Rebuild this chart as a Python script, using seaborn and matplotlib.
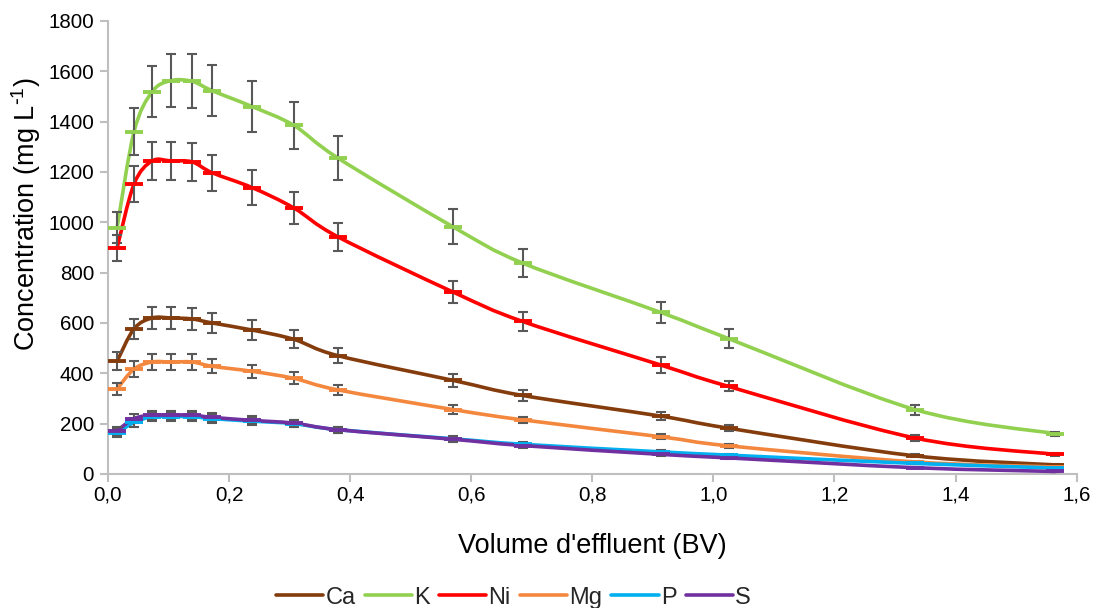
import matplotlib
matplotlib.use("Agg")
import numpy as np
import pandas as pd
import matplotlib.pyplot as plt
import seaborn as sns
from matplotlib.path import Path
from matplotlib.patches import PathPatch
from matplotlib.lines import Line2D
from matplotlib.ticker import FuncFormatter, MultipleLocator

# Effluent volume (bed volumes)
volume_bv = [0.015, 0.043, 0.073, 0.104, 0.139, 0.172, 0.238, 0.307, 0.380,
             0.570, 0.685, 0.913, 1.025, 1.333, 1.565]

# Mean concentrations (mg/L)
ca = [448, 577, 620, 620, 616, 600, 572, 535, 470, 372, 312, 230, 182, 72, 36]
k = [978, 1360, 1519, 1563, 1560, 1523, 1460, 1385, 1255, 982, 838, 642, 538, 256, 160]
ni = [898, 1152, 1244, 1244, 1240, 1197, 1138, 1057, 942, 723, 606, 433, 348, 143, 78]
mg = [338, 417, 445, 445, 445, 428, 408, 380, 334, 256, 215, 148, 112, 48, 28]
p = [163, 205, 228, 228, 228, 220, 210, 200, 176, 140, 118, 88, 75, 42, 24]
s = [172, 220, 234, 234, 234, 225, 213, 202, 176, 138, 113, 78, 64, 25, 10]

# Standard deviations (mg/L)
ca_sd = [35, 40, 44, 44, 42, 40, 40, 36, 30, 25, 20, 15, 12, 6, 3]
k_sd = [62, 94, 102, 105, 107, 102, 100, 95, 88, 70, 57, 42, 37, 20, 8]
ni_sd = [50, 72, 75, 77, 75, 72, 70, 62, 55, 44, 36, 30, 20, 10, 6]
mg_sd = [25, 30, 30, 30, 30, 28, 26, 24, 20, 17, 13, 10, 8, 4, 2]
p_sd = [16, 18, 18, 18, 18, 17, 16, 14, 12, 10, 8, 6, 5, 3, 2]
s_sd = [16, 18, 18, 18, 18, 17, 16, 14, 12, 10, 8, 6, 5, 3, 2]

elements = ["Ca", "K", "Ni", "Mg", "P", "S"]
means = [ca, k, ni, mg, p, s]
sds = [ca_sd, k_sd, ni_sd, mg_sd, p_sd, s_sd]
colors = ["#843C0C", "#92D050", "#FF0000", "#F4873E", "#00B0F0", "#7030A0"]

sns.set_theme(style="white")
plt.rcParams["font.family"] = ["Liberation Sans", "DejaVu Sans"]
plt.rcParams["mathtext.default"] = "regular"

fig = plt.figure(figsize=(11.02, 6.08), dpi=100)
ax = fig.add_axes([0.098, 0.2204, 0.879, 0.7451])


def smooth_path(xs, ys):
    """Cubic Bezier path through the points (spreadsheet-style smoothing)."""
    pts = np.column_stack([xs, ys]).astype(float)
    n = len(pts)
    verts = [pts[0]]
    codes = [Path.MOVETO]
    for i in range(n - 1):
        p0 = pts[i - 1] if i > 0 else pts[i]
        p1 = pts[i]
        p2 = pts[i + 1]
        p3 = pts[i + 2] if i + 2 < n else pts[i + 1]
        c1 = p1 + (p2 - p0) / 6.0
        c2 = p2 - (p3 - p1) / 6.0
        verts += [c1, c2, p2]
        codes += [Path.CURVE4] * 3
    return Path(verts, codes)


records = []
for name, m, sd in zip(elements, means, sds):
    for x, y, e in zip(volume_bv, m, sd):
        records.append({"volume": x, "conc": y, "sd": e, "element": name})
df = pd.DataFrame(records)

for z, (name, col) in enumerate(zip(elements, colors)):
    sub = df[df["element"] == name]
    patch = PathPatch(smooth_path(sub["volume"], sub["conc"]), fill=False,
                      edgecolor=col, lw=2.6, zorder=3 + z * 0.1,
                      capstyle="round", joinstyle="round")
    ax.add_patch(patch)
    ax.errorbar(sub["volume"], sub["conc"], yerr=sub["sd"], fmt="none",
                ecolor="#595959", elinewidth=1.5, capsize=3.6, capthick=1.5,
                zorder=3 + z * 0.1 + 0.02)

# dash markers at each measured point
sns.lineplot(data=df, x="volume", y="conc", hue="element", hue_order=elements,
             palette=colors, estimator=None, sort=False, linestyle="none",
             marker="_", markersize=13.5, markeredgewidth=2.8, legend=False,
             ax=ax, zorder=4)
for ln, col in zip(ax.lines[-len(elements):], colors):
    ln.set_markeredgecolor(col)
    ln.set_linestyle("none")

ax.set_xlim(0, 1.6)
ax.set_ylim(0, 1800)
ax.xaxis.set_major_locator(MultipleLocator(0.2))
ax.yaxis.set_major_locator(MultipleLocator(200))
ax.xaxis.set_major_formatter(FuncFormatter(lambda v, _: f"{v:.1f}".replace(".", ",")))

for side in ["top", "right"]:
    ax.spines[side].set_visible(False)
for side in ["left", "bottom"]:
    ax.spines[side].set_color("#BFBFBF")
    ax.spines[side].set_linewidth(1.5)

ax.tick_params(axis="both", which="major", direction="out", length=6, width=1.5,
               color="#BFBFBF", labelsize=14.8, labelcolor="#000000")
ax.tick_params(axis="x", bottom=True, pad=2)
ax.tick_params(axis="y", left=True, pad=4)

ax.set_xlabel("Volume d'effluent (BV)", fontsize=19.5, labelpad=21, color="#000000")
ax.set_ylabel(r"Concentration (mg L$^{\text{-}1}$)", fontsize=19.5, color="#000000")
ax.yaxis.set_label_coords(-0.067, 0.574)

handles = [Line2D([0], [0], color=c, lw=2.6) for c in colors]
fig.legend(handles, elements, loc="center", bbox_to_anchor=(0.466, 0.017),
           ncol=6, frameon=False, fontsize=17, handlelength=2.0,
           handletextpad=0.1, columnspacing=0.38)

fig.savefig("out.png", dpi=100, facecolor="white")
